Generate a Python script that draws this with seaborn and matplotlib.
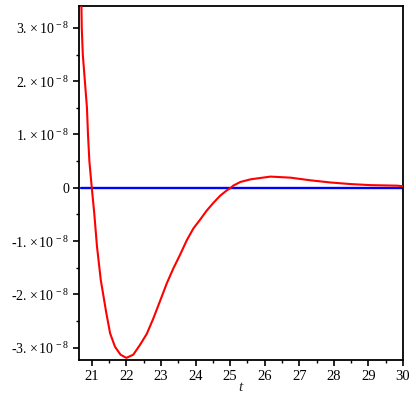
import matplotlib
matplotlib.use("Agg")
import matplotlib.pyplot as plt
import seaborn as sns
import pandas as pd
from matplotlib.ticker import FixedLocator, MultipleLocator

# Data (values in units of 1e-8)
t_vals = [20.70, 20.71, 20.74, 20.80, 20.86, 20.89, 20.93, 21.00, 21.07, 21.15, 21.26,
          21.42, 21.53, 21.67, 21.83, 22.00, 22.20, 22.39, 22.59, 22.78, 22.97, 23.17,
          23.36, 23.55, 23.75, 23.94, 24.13, 24.32, 24.52, 24.71, 24.90, 25.02, 25.09,
          25.24, 25.30, 25.60, 26.17, 26.75, 27.33, 27.90, 28.48, 29.06, 29.83, 30.00]
y_vals = [3.41, 3.00, 2.50, 2.00, 1.50, 1.00, 0.50, 0.00, -0.47, -1.10, -1.73,
          -2.35, -2.73, -2.98, -3.13, -3.19, -3.13, -2.95, -2.74, -2.45, -2.13, -1.79,
          -1.51, -1.26, -0.98, -0.76, -0.60, -0.43, -0.28, -0.15, -0.05, 0.00, 0.04,
          0.09, 0.11, 0.16, 0.21, 0.19, 0.14, 0.10, 0.07, 0.05, 0.04, 0.03]
zero_t = [20.70, 30.0]
zero_y = [0.0, 0.0]
x_ticks = [21, 22, 23, 24, 25, 26, 27, 28, 29, 30]
y_ticks = [-3, -2, -1, 0, 1, 2, 3]
scale = 1e-8

sns.set_style("white")
plt.rcParams["font.family"] = ["Liberation Serif", "DejaVu Serif"]
plt.rcParams["mathtext.fontset"] = "custom"
plt.rcParams["mathtext.rm"] = "Liberation Serif"
plt.rcParams["mathtext.it"] = "Liberation Serif:italic"

df = pd.DataFrame({"t": t_vals, "y": [v * scale for v in y_vals]})
dz = pd.DataFrame({"t": zero_t, "y": [v * scale for v in zero_y]})

fig = plt.figure(figsize=(4.16, 4.0), dpi=100)
ax = fig.add_axes([79 / 416, 40 / 400, (403 - 79) / 416, (360 - 6) / 400])

sns.lineplot(data=dz, x="t", y="y", ax=ax, color="#0000ff", linewidth=1.7, zorder=2)
sns.lineplot(data=df, x="t", y="y", ax=ax, color="#ff0000", linewidth=1.5, zorder=3,
             sort=False)

ax.set_xlim(20.63, 30.0)
ax.set_ylim(-3.23e-8, 3.41e-8)

ax.xaxis.set_major_locator(FixedLocator(x_ticks))
ax.xaxis.set_minor_locator(MultipleLocator(0.5))
ax.yaxis.set_major_locator(FixedLocator([v * scale for v in y_ticks]))
ax.yaxis.set_minor_locator(MultipleLocator(0.5e-8))

ax.set_xticklabels([str(v) for v in x_ticks], fontsize=10.5)
ylabels = []
for v in y_ticks:
    if v == 0:
        ylabels.append("0")
    elif v < 0:
        ylabels.append("-%d. $\\times\\,10^{\\,-8}$" % (-v))
    else:
        ylabels.append("%d. $\\times\\,10^{\\,-8}$" % v)
ax.set_yticklabels(ylabels, fontsize=10)

ax.tick_params(axis="both", which="major", direction="out", length=4, width=1.2,
               color="black", labelcolor="black", pad=3, bottom=True, left=True)
ax.tick_params(axis="both", which="minor", direction="out", length=2.5, width=1.0,
               color="black", bottom=True, left=True)

for s in ax.spines.values():
    s.set_visible(True)
    s.set_color("black")
    s.set_linewidth(1.3)

ax.set_xlabel("$t$", fontsize=11, labelpad=-1)
ax.set_ylabel("")

fig.savefig("out.png", dpi=100)
